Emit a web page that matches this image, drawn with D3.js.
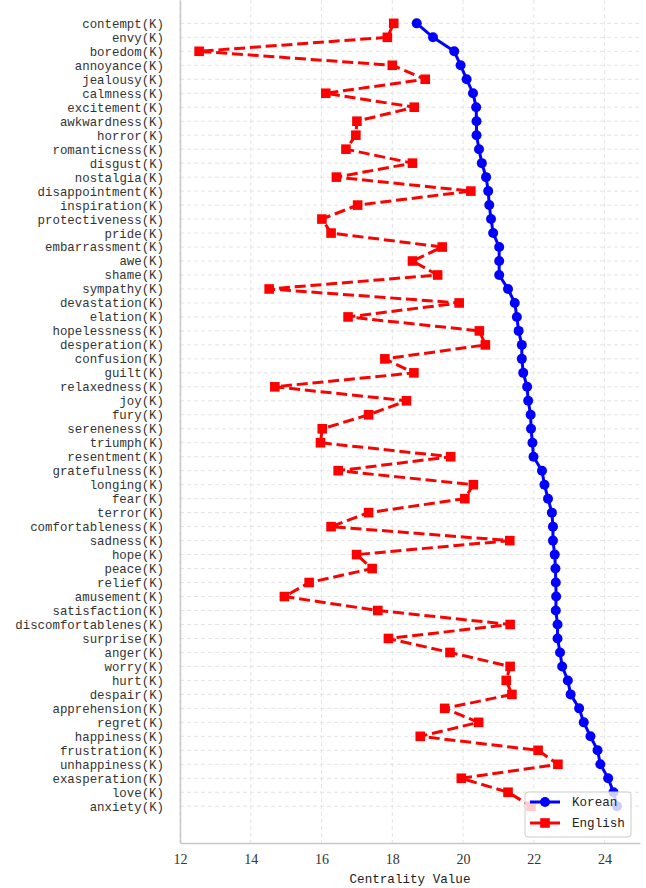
<!DOCTYPE html>
<html>
<head>
<meta charset="utf-8">
<script src="https://cdn.jsdelivr.net/npm/d3@7"></script>
<style>
  html, body { margin: 0; padding: 0; background: #fff; }
  svg { display: block; }
</style>
</head>
<body>
<svg id="chart" width="646" height="888"></svg>
<script>
// Emotion words (Korean-side labels), ordered by Korean centrality
const emotions = [
  "contempt", "envy", "boredom", "annoyance", "jealousy", "calmness", "excitement",
  "awkwardness", "horror", "romanticness", "disgust", "nostalgia", "disappointment",
  "inspiration", "protectiveness", "pride", "embarrassment", "awe", "shame", "sympathy",
  "devastation", "elation", "hopelessness", "desperation", "confusion", "guilt",
  "relaxedness", "joy", "fury", "sereneness", "triumph", "resentment", "gratefulness",
  "longing", "fear", "terror", "comfortableness", "sadness", "hope", "peace", "relief",
  "amusement", "satisfaction", "discomfortablenes", "surprise", "anger", "worry", "hurt",
  "despair", "apprehension", "regret", "happiness", "frustration", "unhappiness",
  "exasperation", "love", "anxiety"
];

// Centrality values per emotion
const koreanValues = [
  18.69, 19.15, 19.75, 19.93, 20.10, 20.28, 20.37, 20.38, 20.38, 20.45, 20.53, 20.65,
  20.71, 20.74, 20.79, 20.85, 21.02, 21.02, 21.02, 21.27, 21.46, 21.52, 21.57, 21.66,
  21.66, 21.70, 21.81, 21.84, 21.91, 21.92, 21.96, 21.99, 22.23, 22.30, 22.40, 22.51,
  22.54, 22.54, 22.59, 22.61, 22.62, 22.63, 22.62, 22.67, 22.67, 22.74, 22.80, 22.96,
  23.04, 23.28, 23.41, 23.60, 23.80, 23.88, 24.10, 24.25, 24.35
];
const englishValues = [
  18.04, 17.86, 12.54, 18.00, 18.93, 16.12, 18.62, 17.00, 16.97, 16.69, 18.57, 16.42,
  20.22, 17.02, 16.01, 16.27, 19.41, 18.57, 19.28, 14.52, 19.89, 16.75, 20.46, 20.63,
  17.79, 18.61, 14.68, 18.40, 17.33, 16.02, 15.97, 19.65, 16.47, 20.29, 20.05, 17.33,
  16.27, 21.32, 16.99, 17.43, 15.65, 14.95, 17.59, 21.33, 17.89, 19.63, 21.33, 21.22,
  21.38, 19.48, 20.44, 18.79, 22.12, 22.68, 19.95, 21.27, 21.92
];

const xTicks = [12, 14, 16, 18, 20, 22, 24];
const seriesNames = ["Korean", "English"];

const svg = d3.select("#chart");
const margin = { left: 180, right: 6, top: 0, bottom: 45 };
const W = 646, H = 888;
const plotW = W - margin.left - margin.right;
const plotH = H - margin.top - margin.bottom;

const x = d3.scaleLinear().domain([12, 25]).range([0, plotW]);
const y = d3.scaleLinear().domain([-1.67, 58.63]).range([0, plotH]);

const g = svg.append("g").attr("transform", `translate(${margin.left},${margin.top})`);

const monoFont = "'Liberation Mono', 'DejaVu Sans Mono', monospace";
const serifFont = "'Liberation Serif', 'DejaVu Serif', serif";

// grid
const gridColor = "#e4e4e4";
g.append("g").selectAll("line").data(emotions).join("line")
  .attr("x1", 0).attr("x2", plotW)
  .attr("y1", (d, i) => y(i)).attr("y2", (d, i) => y(i))
  .attr("stroke", gridColor).attr("stroke-width", 1).attr("stroke-dasharray", "4,3");
g.append("g").selectAll("line").data(xTicks).join("line")
  .attr("x1", d => x(d)).attr("x2", d => x(d))
  .attr("y1", 0).attr("y2", plotH)
  .attr("stroke", gridColor).attr("stroke-width", 1).attr("stroke-dasharray", "4,3");

// axes
const xAxis = d3.axisBottom(x).tickValues(xTicks).tickSize(0).tickPadding(11);
const xg = g.append("g").attr("transform", `translate(0,${plotH})`).call(xAxis);
xg.select(".domain").attr("stroke", "#c8c8c8").attr("stroke-width", 1.5);
xg.selectAll("text").attr("font-family", serifFont).attr("font-size", 14).attr("fill", "#333");

const yAxis = d3.axisLeft(y).tickValues(d3.range(emotions.length))
  .tickFormat(i => emotions[i] + "(K)").tickSize(0).tickPadding(16);
const yg = g.append("g").call(yAxis);
yg.select(".domain").attr("stroke", "#c8c8c8").attr("stroke-width", 1.5);
yg.selectAll("text").attr("font-family", monoFont).attr("font-size", 12.4).attr("fill", "#333");

// axis title
g.append("text")
  .attr("x", x(18.5)).attr("y", plotH + 40)
  .attr("text-anchor", "middle")
  .attr("font-family", monoFont).attr("font-size", 12.6).attr("fill", "#222")
  .text("Centrality Value");

// Korean series
const seriesLine = d3.line().x(d => x(d)).y((d, i) => y(i));
g.append("path").datum(koreanValues)
  .attr("d", seriesLine).attr("fill", "none")
  .attr("stroke", "#0000ff").attr("stroke-width", 3);
g.append("g").selectAll("circle").data(koreanValues).join("circle")
  .attr("cx", d => x(d)).attr("cy", (d, i) => y(i)).attr("r", 5)
  .attr("fill", "#0000ff");

// English series
g.append("path").datum(englishValues)
  .attr("d", seriesLine).attr("fill", "none")
  .attr("stroke", "#ff0000").attr("stroke-width", 3)
  .attr("stroke-dasharray", "11,4.8");
g.append("g").selectAll("rect").data(englishValues).join("rect")
  .attr("x", d => x(d) - 4.8).attr("y", (d, i) => y(i) - 4.8)
  .attr("width", 9.6).attr("height", 9.6)
  .attr("fill", "#ff0000");

// legend
const lg = svg.append("g").attr("transform", "translate(525,792)");
lg.append("rect").attr("width", 106).attr("height", 45).attr("rx", 3)
  .attr("fill", "#fff").attr("fill-opacity", 0.8)
  .attr("stroke", "#cccccc").attr("stroke-width", 1);
seriesNames.forEach((name, k) => {
  const yy = 10 + k * 21;
  const col = k === 0 ? "#0000ff" : "#ff0000";
  lg.append("line").attr("x1", 5).attr("x2", 35).attr("y1", yy).attr("y2", yy)
    .attr("stroke", col).attr("stroke-width", 3);
  if (k === 0) {
    lg.append("circle").attr("cx", 20).attr("cy", yy).attr("r", 5).attr("fill", col);
  } else {
    lg.append("rect").attr("x", 15.2).attr("y", yy - 4.8).attr("width", 9.6).attr("height", 9.6).attr("fill", col);
  }
  lg.append("text").attr("x", 47).attr("y", yy + 4.3)
    .attr("font-family", monoFont).attr("font-size", 12.6).attr("fill", "#222")
    .text(name);
});
</script>
</body>
</html>
